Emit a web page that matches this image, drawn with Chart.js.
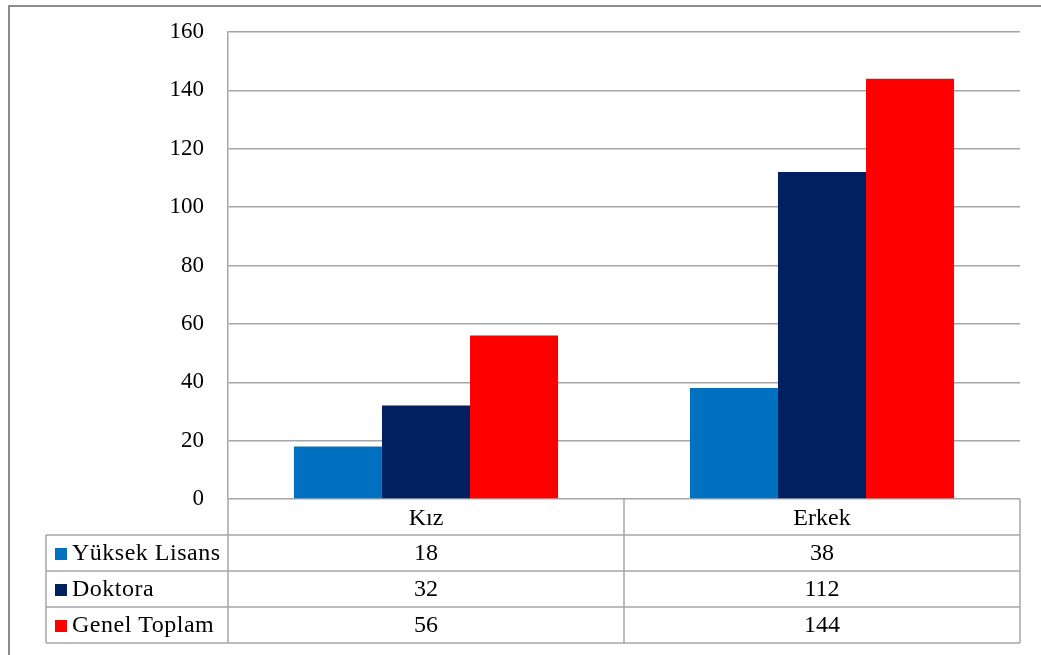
<!DOCTYPE html>
<html>
<head>
<meta charset="utf-8">
<script src="https://cdn.jsdelivr.net/npm/chart.js@4/dist/chart.umd.min.js"></script>
<style>
  html, body { margin: 0; padding: 0; background: #fff; }
  #wrap { position: relative; width: 1041px; height: 655px; }
  #frame { position: absolute; left: 8px; top: 5px; right: -4px; bottom: -4px; border-top: 2px solid #8c8c8c; border-left: 2px solid #8c8c8c; pointer-events: none; }
</style>
</head>
<body>
<div id="wrap">
  <canvas id="chart" width="1041" height="655"></canvas>
  <div id="frame"></div>
</div>
<script>
// 데이터
const categories = ['Kız', 'Erkek'];
const seriesNames = ['Yüksek Lisans', 'Doktora', 'Genel Toplam'];
const yuksekLisans = [18, 38];
const doktora = [32, 112];
const genelToplam = [56, 144];
const seriesColors = ['#0070C0', '#002060', '#FF0000'];
const yTicks = [0, 20, 40, 60, 80, 100, 120, 140, 160];

const FONT = '"Liberation Serif", "Times New Roman", serif';
const GRID = '#a6a6a6';

// 데이터 테이블 (차트 아래)
const dataTablePlugin = {
    id: 'dataTable',
    afterDraw(chart) {
        const ctx = chart.ctx;
        const area = chart.chartArea;
        const x = chart.scales.x;
        const rowH = 36;
        const labelLeft = 46;
        const top = area.bottom;
        const rowTops = [top, top + rowH, top + rowH * 2, top + rowH * 3];
        const bottom = top + rowH * 4;
        const mid = (x.getPixelForValue(0) + x.getPixelForValue(1)) / 2;

        ctx.save();
        ctx.strokeStyle = GRID;
        ctx.lineWidth = 1.5;
        ctx.beginPath();
        // 세로선
        ctx.moveTo(area.left, top); ctx.lineTo(area.left, bottom);
        ctx.moveTo(mid, top); ctx.lineTo(mid, bottom);
        ctx.moveTo(area.right, top); ctx.lineTo(area.right, bottom);
        ctx.moveTo(labelLeft, rowTops[1]); ctx.lineTo(labelLeft, bottom);
        // 가로선
        for (let i = 1; i <= 4; i++) {
            const yy = top + rowH * i;
            ctx.moveTo(labelLeft, yy);
            ctx.lineTo(area.right, yy);
        }
        ctx.stroke();

        ctx.fillStyle = '#000';
        ctx.font = '24px ' + FONT;
        ctx.textAlign = 'center';
        ctx.textBaseline = 'middle';
        categories.forEach((c, i) => {
            ctx.fillText(c, x.getPixelForValue(i), top + rowH / 2 + 2);
        });

        chart.data.datasets.forEach((ds, r) => {
            const cy = rowTops[r + 1] + rowH / 2 + 1;
            ctx.fillStyle = ds.backgroundColor;
            ctx.fillRect(55, cy - 6, 12, 12);
            ctx.fillStyle = '#000';
            ctx.textAlign = 'left';
            ctx.letterSpacing = '0.5px';
            ctx.fillText(ds.label, 72, cy);
            ctx.letterSpacing = '0px';
            ctx.textAlign = 'center';
            ds.data.forEach((v, i) => {
                ctx.fillText(String(v), x.getPixelForValue(i), cy);
            });
        });
        ctx.restore();
    }
};

const ctx = document.getElementById('chart').getContext('2d');
new Chart(ctx, {
    type: 'bar',
    data: {
        labels: categories,
        datasets: [yuksekLisans, doktora, genelToplam].map((d, i) => ({
            label: seriesNames[i],
            data: d,
            backgroundColor: seriesColors[i],
            barPercentage: 1,
            categoryPercentage: 0.667
        }))
    },
    options: {
        responsive: false,
        animation: false,
        layout: { padding: { top: 32, right: 21, bottom: 148, left: 0 } },
        plugins: { legend: { display: false }, tooltip: { enabled: false } },
        scales: {
            x: {
                ticks: { display: false },
                grid: { display: false },
                border: { display: false }
            },
            y: {
                min: 0,
                max: 160,
                afterBuildTicks: (s) => { s.ticks = yTicks.map(v => ({ value: v })); },
                afterFit: (s) => { s.width = 228; s.paddingTop = 0; s.paddingBottom = 0; },
                ticks: { color: '#000', font: { family: FONT, size: 23 }, padding: 24 },
                grid: { color: GRID, lineWidth: 1.5, drawTicks: false },
                border: { color: GRID, width: 1.5 }
            }
        }
    },
    plugins: [dataTablePlugin]
});
</script>
</body>
</html>
